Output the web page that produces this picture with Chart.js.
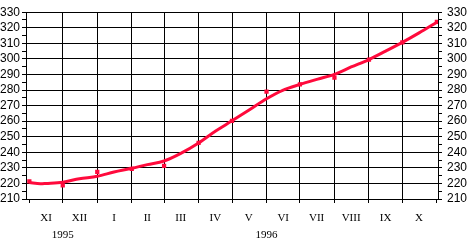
<!DOCTYPE html>
<html>
<head>
<meta charset="utf-8">
<script src="https://cdn.jsdelivr.net/npm/chart.js@4.4.1/dist/chart.umd.min.js"></script>
<style>
  html, body { margin: 0; padding: 0; background: #fff; }
  canvas { display: block; }
</style>
</head>
<body>
<canvas id="chart" width="467" height="240"></canvas>
<script>
// days counted from 1 Nov 1995
const monthDays = [0, 30, 61, 92, 121, 152, 182, 213, 243, 274, 305, 335, 366];
const monthMidDays = [15, 45, 76, 106, 136, 167, 197, 228, 258, 289, 320, 350];
const monthLabels = ['XI', 'XII', 'I', 'II', 'III', 'IV', 'V', 'VI', 'VII', 'VIII', 'IX', 'X'];
const yearDays = [30, 213];
const yearLabels = ['1995', '1996'];

const pointDays = [0, 30, 61, 92, 121, 152, 182, 213, 243, 274, 305, 335, 366];
const pointValues = [221.4, 218.7, 227.4, 229.3, 231.3, 246, 260.2, 278.9, 283.6, 288, 299.6, 310.6, 323.8];

const curveDays = [0, 10, 15, 30, 45, 61, 76, 92, 106, 121, 136, 152, 167, 182, 197, 213, 228, 243, 259, 274, 289, 305, 320, 335, 350, 366];
const curveValues = [220.6, 219.8, 220, 220.8, 223, 224.6, 227.3, 229.7, 232.1, 234.4, 239.3, 246, 253.5, 260.2, 267, 274.4, 280, 283.6, 287, 290.1, 294.8, 299.6, 305, 310.6, 316.7, 323.6];

const yTicks = [];
for (let v = 210; v <= 330; v += 5) yTicks.push(v);

const red = '#ff0a3c';
const xMin = -3, xMax = 367;

function setTicks(list) {
  return scale => { scale.ticks = list.map(v => ({ value: v })); };
}

const yAxis = (pos, w, pad) => ({
  type: 'linear',
  position: pos,
  min: 210,
  max: 330,
  afterBuildTicks: setTicks(yTicks),
  afterFit: s => { s.width = w; },
  border: { display: true, color: '#000', width: 1 },
  grid: {
    drawOnChartArea: pos === 'left',
    color: c => (c.tick && c.tick.value % 10 === 0) ? '#000' : 'rgba(0,0,0,0)',
    tickColor: '#000',
    tickLength: 4,
    lineWidth: 1
  },
  ticks: {
    padding: pad,
    autoSkip: false,
    color: '#000',
    font: { family: 'Liberation Sans', size: 12 },
    callback: v => (v % 10 === 0 ? String(v) : '')
  }
});

new Chart(document.getElementById('chart'), {
  type: 'line',
  data: {
    datasets: [
      {
        data: curveDays.map((d, i) => ({ x: d, y: curveValues[i] })),
        borderColor: red,
        borderWidth: 3,
        pointRadius: 0,
        fill: false,
        cubicInterpolationMode: 'monotone'
      },
      {
        data: pointDays.map((d, i) => ({ x: d, y: pointValues[i] })),
        showLine: false,
        pointStyle: 'rect',
        pointRadius: 3,
        pointBackgroundColor: red,
        pointBorderColor: red,
        pointBorderWidth: 0
      }
    ]
  },
  options: {
    responsive: false,
    animation: false,
    layout: { padding: { top: 2, left: 0, right: 0, bottom: 0 } },
    plugins: { legend: { display: false }, tooltip: { enabled: false } },
    scales: {
      x: {
        type: 'linear',
        position: 'bottom',
        weight: 0,
        min: xMin,
        max: xMax,
        afterBuildTicks: setTicks(monthDays),
        afterFit: s => { s.height = 4; },
        border: { display: true, color: '#000', width: 1 },
        grid: {
          color: c => (c.tick && (c.tick.value === 0 || c.tick.value === 366)) ? 'rgba(0,0,0,0)' : '#000',
          tickColor: '#000',
          tickLength: 4,
          lineWidth: 1
        },
        ticks: { display: false }
      },
      xMonths: {
        type: 'linear',
        position: 'bottom',
        weight: 1,
        min: xMin,
        max: xMax,
        afterBuildTicks: setTicks(monthMidDays),
        afterFit: s => { s.height = 20; },
        border: { display: false },
        grid: { display: false, drawTicks: false },
        ticks: {
          padding: 9,
          maxRotation: 0,
          autoSkip: false,
          color: '#000',
          font: { family: 'Liberation Serif', size: 11 },
          callback: v => monthLabels[monthMidDays.indexOf(v)]
        }
      },
      xYears: {
        type: 'linear',
        position: 'bottom',
        weight: 2,
        min: xMin,
        max: xMax,
        afterBuildTicks: setTicks(yearDays),
        afterFit: s => { s.height = 17; },
        border: { display: false },
        grid: { display: false, drawTicks: false },
        ticks: {
          padding: 6,
          maxRotation: 0,
          autoSkip: false,
          color: '#000',
          font: { family: 'Liberation Serif', size: 11 },
          callback: v => yearLabels[yearDays.indexOf(v)]
        }
      },
      y: yAxis('left', 26, 2),
      y2: yAxis('right', 29, 5)
    }
  }
});
</script>
</body>
</html>
